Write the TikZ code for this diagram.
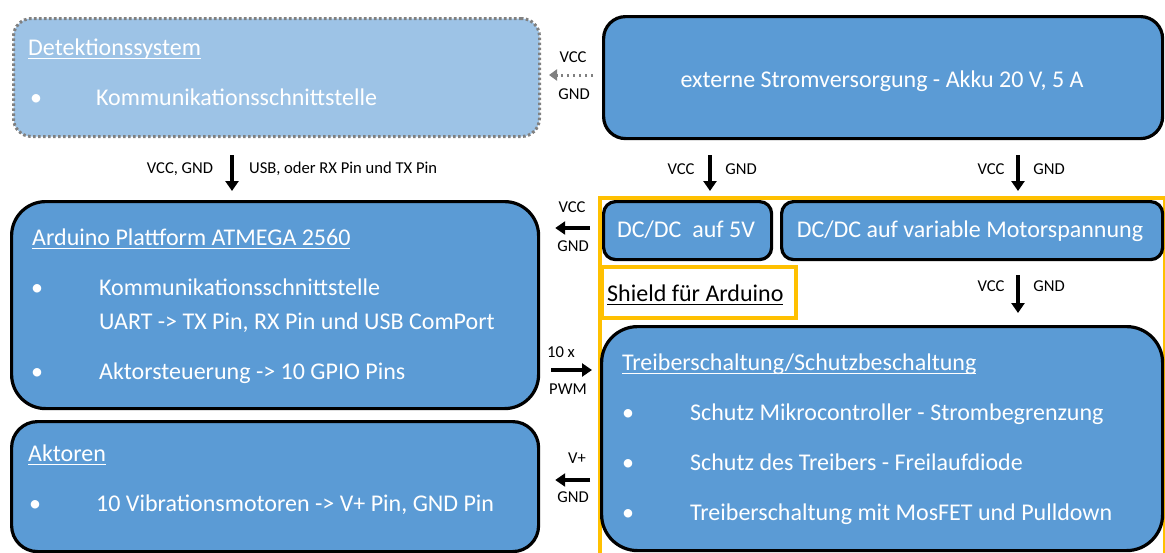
\documentclass[tikz,border=0pt]{standalone}
\usepackage{fontspec}
\setmainfont{Carlito}
\newcommand{\myul}[1]{\setbox0\hbox{#1}\rlap{\vrule height -3pt depth 4.3pt width \wd0}\box0}
\usetikzlibrary{arrows.meta,calc}
\definecolor{boxblue}{HTML}{5B9BD5}
\definecolor{lightblue}{HTML}{9DC3E6}
\definecolor{shieldyellow}{HTML}{FFC000}
\definecolor{dotgray}{HTML}{808080}
\newcommand{\bigtxt}{\fontsize{24}{28}\selectfont}
\newcommand{\lbltxt}{\fontsize{16.6}{19}\selectfont}
\begin{document}
\begin{tikzpicture}[x=1pt,y=-1pt,
  blk/.style={draw=black, line width=3.2pt, fill=boxblue, rounded corners=#1, inner sep=0pt, anchor=north west},
  detbox/.style={draw=dotgray, line width=3pt, dash pattern=on 2.6pt off 2.4pt, fill=lightblue, rounded corners=18pt, inner sep=0pt, anchor=north west},
  yframe/.style={draw=shieldyellow, line width=4pt, inner sep=0pt, anchor=north west},
  txt/.style={text=white, font=\bigtxt, inner sep=0pt},
  btxt/.style={text=black, font=\bigtxt, inner sep=0pt},
  lbl/.style={text=black, font=\lbltxt, inner sep=0pt},
  arr/.style={line width=3.6pt, -{Triangle[length=10pt,width=13pt]}},
  darr/.style={draw=dotgray, line width=3pt, dash pattern=on 2.5pt off 3.5pt, -{Triangle[length=8pt,width=11pt,fill=dotgray]}}
]
\useasboundingbox (0,0) rectangle (1165,552);

% yellow shield frame
\node[yframe, minimum width=565pt, minimum height=380pt] (frame) at (598,196) {};

% boxes
\node[detbox, minimum width=526pt, minimum height=118pt] (det) at (12,17) {};
\node[blk=22pt, minimum width=559pt, minimum height=122pt] (ext) at (602,15) {};
\node[blk=34pt, minimum width=527pt, minimum height=207pt] (ard) at (10,200) {};
\node[blk=26pt, minimum width=527pt, minimum height=130pt] (akt) at (10,420) {};
\node[blk=12pt, minimum width=168pt, minimum height=58pt] (dc5) at (602,200) {};
\node[blk=12pt, minimum width=381pt, minimum height=58pt] (dcv) at (780,200) {};
\node[yframe, line width=3.5pt, minimum width=194pt, minimum height=51pt] (shield) at (600,265) {};
\node[blk=36pt, minimum width=561pt, minimum height=224pt] (tr) at (600,325) {};

% texts
\node[txt, anchor=base west] (detT) at (28,55) {\myul{Detektionssystem}};
\node[txt, anchor=base west] (detB) at (30,105) {•};
\node[txt, anchor=base west] (det1) at (96,105) {Kommunikationsschnittstelle};

\node[txt, anchor=base] (extT) at (882,87) {externe Stromversorgung - Akku 20 V, 5 A};

\node[txt, anchor=base west] (ardT) at (32,245) {\myul{Arduino Plattform ATMEGA 2560}};
\node[txt, anchor=base west] (ardB1) at (31,295) {•};
\node[txt, anchor=base west] (ard1) at (99,295) {Kommunikationsschnittstelle};
\node[txt, anchor=base west] (ard2) at (99,329) {UART -> TX Pin, RX Pin und USB ComPort};
\node[txt, anchor=base west] (ardB2) at (31,379) {•};
\node[txt, anchor=base west] (ard3) at (99,379) {Aktorsteuerung -> 10 GPIO Pins};

\node[txt, anchor=base west] (aktT) at (28,461) {\myul{Aktoren}};
\node[txt, anchor=base west] (aktB) at (29,511) {•};
\node[txt, anchor=base west] (akt1) at (96,511) {10 Vibrationsmotoren -> V+ Pin, GND Pin};

\node[txt, anchor=base] (dc5T) at (686,237) {DC/DC\ \ auf 5V};
\node[txt, anchor=base] (dcvT) at (970,237) {DC/DC auf variable Motorspannung};
\node[btxt, anchor=base west] (shT) at (607,301) {\myul{Shield für Arduino}};

\node[txt, anchor=base west] (trT) at (622,370) {\myul{Treiberschaltung/Schutzbeschaltung}};
\node[txt, anchor=base west] (trB1) at (622,420) {•};
\node[txt, anchor=base west] (tr1) at (690,420) {Schutz Mikrocontroller - Strombegrenzung};
\node[txt, anchor=base west] (trB2) at (622,470) {•};
\node[txt, anchor=base west] (tr2) at (690,470) {Schutz des Treibers - Freilaufdiode};
\node[txt, anchor=base west] (trB3) at (622,520) {•};
\node[txt, anchor=base west] (tr3) at (690,520) {Treiberschaltung mit MosFET und Pulldown};

% connector coordinates
\coordinate (xa) at (232,0);
\coordinate (xb) at (710,0);
\coordinate (xc) at (1018,0);
\coordinate (ya) at (0,75);
\coordinate (yb) at (0,228);
\coordinate (yc) at (0,370);
\coordinate (yd) at (0,480);

% connectors
\draw[darr, shorten <=9pt, shorten >=8pt] (ext.west |- ya) -- (det.east |- ya);
\draw[arr, shorten <=17pt, shorten >=9pt] (det.south -| xa) -- (ard.north -| xa);
\draw[arr, shorten <=15pt, shorten >=9pt] (ext.south -| xb) -- (dc5.north -| xb);
\draw[arr, shorten <=15pt, shorten >=9pt] (ext.south -| xc) -- (dcv.north -| xc);
\draw[arr, shorten <=14pt, shorten >=12pt] (dcv.south -| xc) -- (tr.north -| xc);
\draw[arr, shorten <=12pt, shorten >=15pt] (dc5.west |- yb) -- (ard.east |- yb);
\draw[arr, shorten <=11pt, shorten >=8pt] (ard.east |- yc) -- (tr.west |- yc);
\draw[arr, shorten <=10pt, shorten >=15pt] (tr.west |- yd) -- (akt.east |- yd);

% labels
\node[lbl] (l1) at (573,57) {VCC};
\node[lbl] (l2) at (574,94) {GND};
\node[lbl] (l3) at (180,169) {VCC, GND};
\node[lbl, anchor=west] (l4) at (249,169) {USB, oder RX Pin und TX Pin};
\node[lbl] (l5) at (681,169) {VCC};
\node[lbl] (l6) at (741,169) {GND};
\node[lbl] (l7) at (991,169) {VCC};
\node[lbl] (l8) at (1049,169) {GND};
\node[lbl] (l9) at (572,207) {VCC};
\node[lbl] (l10) at (573,246) {GND};
\node[lbl] (l11) at (561,352) {10 x};
\node[lbl] (l12) at (568,389) {PWM};
\node[lbl] (l13) at (577,458) {V+};
\node[lbl] (l14) at (573,497) {GND};
\node[lbl] (l15) at (991,286) {VCC};
\node[lbl] (l16) at (1049,286) {GND};
\end{tikzpicture}
\end{document}
